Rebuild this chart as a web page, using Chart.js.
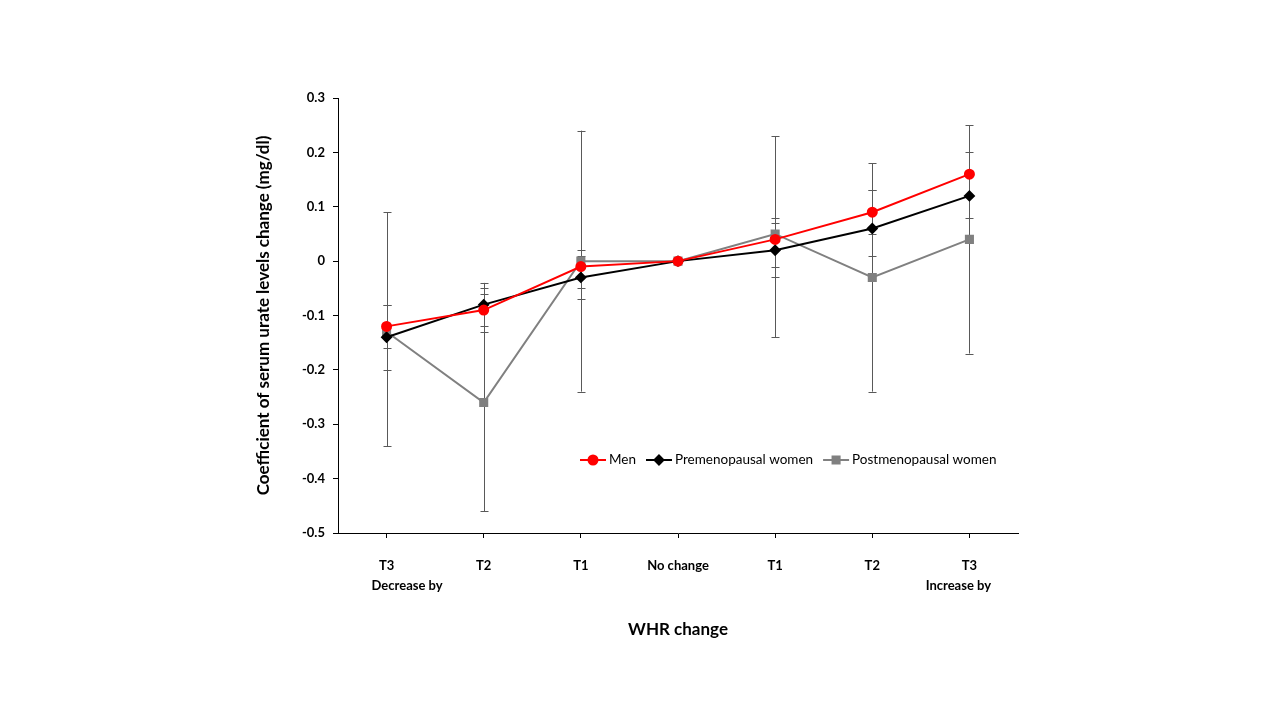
<!DOCTYPE html>
<html>
<head>
<meta charset="utf-8">
<script src="https://cdn.jsdelivr.net/npm/chart.js@4.4.0/dist/chart.umd.min.js"></script>
<style>
  html, body { margin: 0; padding: 0; background: #fff; }
  #wrap { width: 1280px; height: 720px; }
</style>
</head>
<body>
<div id="wrap"><canvas id="chart"></canvas></div>
<script>
// categories (WHR change); the spaces push the second line off-centre as in the original
const categories = [["T3", "             Decrease by"], "T2", "T1", "No change", "T1", "T2", ["T3", "Increase by       "]];
const yTicks = [0.3, 0.2, 0.1, 0, -0.1, -0.2, -0.3, -0.4, -0.5];

const men = [-0.12, -0.09, -0.01, 0, 0.04, 0.09, 0.16];
const menLow = [-0.16, -0.13, -0.05, null, -0.01, 0.05, 0.12];
const menHigh = [-0.08, -0.05, 0.02, null, 0.08, 0.13, 0.20];

const pre = [-0.14, -0.08, -0.03, 0, 0.02, 0.06, 0.12];
const preLow = [-0.20, -0.12, -0.07, null, -0.03, 0.01, 0.08];
const preHigh = [-0.08, -0.04, 0.01, null, 0.07, 0.13, 0.16];

const post = [-0.13, -0.26, 0, 0, 0.05, -0.03, 0.04];
const postLow = [-0.34, -0.46, -0.24, null, -0.14, -0.24, -0.17];
const postHigh = [0.09, -0.06, 0.24, null, 0.23, 0.18, 0.25];

const FONT = "Lato, 'Open Sans', sans-serif";

// error bars, drawn under the lines
const errorBars = {
  id: 'errorBars',
  beforeDatasetsDraw(chart) {
    const ctx = chart.ctx, x = chart.scales.x, y = chart.scales.y;
    ctx.save();
    ctx.strokeStyle = '#595959';
    ctx.lineWidth = 1;
    chart.data.datasets.forEach(function (ds) {
      ds.low.forEach(function (lo, i) {
        const hi = ds.high[i];
        if (lo == null || hi == null) return;
        const px = Math.round(x.getPixelForValue(i)) + 0.5;
        const y1 = y.getPixelForValue(lo), y2 = y.getPixelForValue(hi);
        ctx.beginPath();
        ctx.moveTo(px, y1); ctx.lineTo(px, y2);
        ctx.moveTo(px - 4, Math.round(y1) + 0.5); ctx.lineTo(px + 4, Math.round(y1) + 0.5);
        ctx.moveTo(px - 4, Math.round(y2) + 0.5); ctx.lineTo(px + 4, Math.round(y2) + 0.5);
        ctx.stroke();
      });
    });
    ctx.restore();
  }
};

// legend inside the plot area: line with marker, then text
const lineLegend = {
  id: 'lineLegend',
  afterDraw(chart) {
    const ctx = chart.ctx;
    let lx = 580;
    const ly = 460;
    ctx.save();
    ctx.font = "13.5px " + FONT;
    ctx.textBaseline = 'middle';
    chart.data.datasets.forEach(function (ds) {
      ctx.strokeStyle = ds.borderColor;
      ctx.lineWidth = 2;
      ctx.beginPath();
      ctx.moveTo(lx, ly); ctx.lineTo(lx + 26, ly);
      ctx.stroke();
      Chart.helpers.drawPoint(ctx, {
        pointStyle: ds.pointStyle, radius: ds.pointRadius, rotation: 0, borderWidth: 1
      }, lx + 13, ly);
      ctx.fillStyle = ds.borderColor;
      ctx.fill();
      ctx.fillStyle = '#000';
      ctx.fillText(ds.label, lx + 29, ly);
      lx += 29 + ctx.measureText(ds.label).width + 10;
    });
    ctx.restore();
  }
};

new Chart(document.getElementById('chart'), {
  type: 'line',
  data: {
    labels: categories,
    datasets: [
      { label: 'Men', data: men, low: menLow, high: menHigh,
        borderColor: '#ff0000', backgroundColor: '#ff0000', borderWidth: 2,
        pointStyle: 'circle', pointRadius: 4.5 },
      { label: 'Premenopausal women', data: pre, low: preLow, high: preHigh,
        borderColor: '#000000', backgroundColor: '#000000', borderWidth: 2,
        pointStyle: 'rectRot', pointRadius: 4.5 },
      { label: 'Postmenopausal women', data: post, low: postLow, high: postHigh,
        borderColor: '#808080', backgroundColor: '#808080', borderWidth: 2,
        pointStyle: 'rect', pointRadius: 5 }
    ]
  },
  options: {
    responsive: true,
    maintainAspectRatio: false,
    animation: false,
    layout: { padding: { top: 98, right: 262, left: 0, bottom: 0 } },
    plugins: { legend: { display: false }, tooltip: { enabled: false } },
    elements: { line: { tension: 0 }, point: { borderWidth: 1, hoverRadius: 5 } },
    scales: {
      x: {
        offset: true,
        grid: { offset: false, drawOnChartArea: false, tickLength: 5, color: '#000' },
        border: { color: '#000', width: 1 },
        ticks: { color: '#000', font: { family: FONT, size: 13, weight: 'bold', lineHeight: 1.6 },
                 padding: 17, maxRotation: 0, autoSkip: false },
        title: { display: true, text: 'WHR change', color: '#000',
                 font: { family: FONT, size: 17, weight: 'bold' }, padding: { top: 0, bottom: 80 } },
        afterFit(scale) { scale.height = 187; }
      },
      y: {
        min: -0.5, max: 0.3,
        afterBuildTicks(scale) { scale.ticks = yTicks.map(function (v) { return { value: v }; }); },
        grid: { drawOnChartArea: false, tickLength: 5, color: '#000' },
        border: { color: '#000', width: 1 },
        ticks: { color: '#000', font: { family: FONT, size: 13, weight: 'bold' }, padding: 8,
                 callback: function (v) { return String(Number(v.toFixed(1))); } },
        title: { display: true, text: 'Coefficient of serum urate levels change (mg/dl)', color: '#000',
                 font: { family: FONT, size: 17, weight: 'bold' }, padding: { top: 253, bottom: 0 } },
        afterFit(scale) { scale.width = 338; }
      }
    }
  },
  plugins: [errorBars, lineLegend]
});
</script>
</body>
</html>
